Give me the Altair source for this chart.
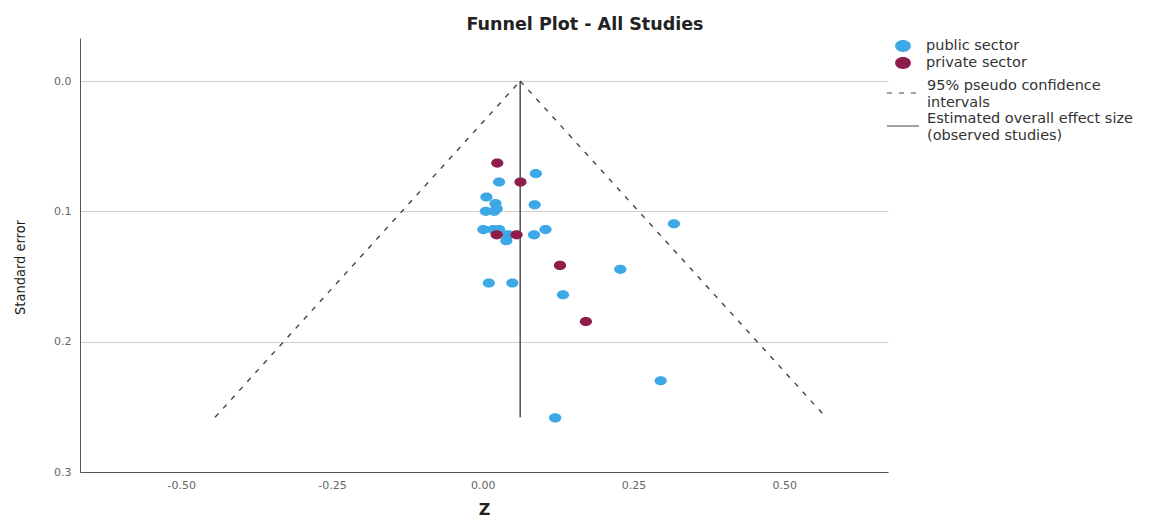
import altair as alt
import pandas as pd

# Study points
public_z = [0.088, 0.027, 0.006, 0.021, 0.086, 0.005, 0.019, 0.023, 0.317, 0.001,
            0.017, 0.027, 0.104, 0.042, 0.039, 0.085, 0.228, 0.010, 0.049, 0.133,
            0.295, 0.120]
public_se = [0.071, 0.0775, 0.089, 0.094, 0.095, 0.100, 0.100, 0.098, 0.1095, 0.114,
             0.114, 0.114, 0.114, 0.118, 0.1225, 0.118, 0.1445, 0.155, 0.155, 0.164,
             0.230, 0.2585]
private_z = [0.024, 0.0625, 0.023, 0.056, 0.128, 0.171]
private_se = [0.063, 0.0775, 0.118, 0.118, 0.1415, 0.1845]

# Funnel lines (end points)
effect = 0.062
se_max = 0.258
ci_left = [0.062, -0.444]
ci_right = [0.062, 0.569]
ci_se = [0.0, 0.258]

sectors = ["public sector", "private sector"]
colors = ["#3DA8E6", "#8D1D4B"]
line_types = ["95% pseudo confidence intervals",
              "Estimated overall effect size (observed studies)"]

pts = pd.DataFrame({
    "z": public_z + private_z,
    "se": public_se + private_se,
    "sector": ["public sector"] * len(public_z) + ["private sector"] * len(private_z),
    "order": list(range(len(public_z) + len(private_z))),
})

lines = pd.DataFrame({
    "z": ci_left + ci_right + [effect, effect],
    "se": ci_se + ci_se + [0.0, se_max],
    "part": ["L", "L", "R", "R", "V", "V"],
    "type": [line_types[0]] * 4 + [line_types[1]] * 2,
})

FONT = "DejaVu Sans"
NARROW = "DejaVu Sans Condensed, Liberation Sans, sans-serif"

xscale = alt.Scale(domain=[-0.668, 0.672], nice=False, zero=False)
yscale = alt.Scale(domain=[-0.033, 0.3], nice=False, zero=False, reverse=True)

xaxis = alt.Axis(values=[-0.5, -0.25, 0, 0.25, 0.5], grid=False,
                 labelExpr="replace(format(datum.value, '.2f'), '\u2212', '-')",
                 ticks=False, labelPadding=7, labelFontSize=11, labelColor="#666666",
                 domainColor="#555555", title="Z", titleFontSize=16, titleFontWeight="bold",
                 titleColor="#222222", titleY=37, titleBaseline="middle", titleFont=FONT,
                 labelFont=FONT)
yaxis = alt.Axis(values=[0, 0.1, 0.2, 0.3], format=".1f", grid=True, gridColor="#cfcfcf",
                 ticks=False, labelPadding=9, labelFontSize=11, labelColor="#666666",
                 domainColor="#555555", title="Standard error", titleFontSize=14.5,
                 titleFontWeight="normal", titleColor="#1a1a1a", titleX=-60, titleY=229,
                 titleBaseline="middle", titleFont=NARROW, labelFont=FONT)

line_layer = alt.Chart(lines).mark_line(color="#444444", strokeWidth=1.4).encode(
    x=alt.X("z:Q", scale=xscale, axis=xaxis),
    y=alt.Y("se:Q", scale=yscale, axis=yaxis),
    detail="part:N",
    strokeDash=alt.StrokeDash(
        "type:N",
        scale=alt.Scale(domain=line_types, range=[[5, 7], [1, 0]]),
        legend=alt.Legend(
            title=None, orient="none", legendX=806, legendY=38,
            symbolType="stroke", symbolSize=1024, symbolStrokeColor="#444444",
            symbolStrokeWidth=1.2, labelFontSize=14.5, labelColor="#333333",
            labelFont=FONT, labelOffset=7, labelLimit=400, rowPadding=0,
            labelBaseline="bottom",
            labelExpr=("datum.label == '95% pseudo confidence intervals' ? "
                       "['95% pseudo confidence', 'intervals'] : "
                       "['Estimated overall effect size', '(observed studies)']"),
        ),
    ),
)

ellipse = "M -1 0 A 1 0.75 0 1 1 1 0 A 1 0.75 0 1 1 -1 0 Z"

point_layer = alt.Chart(pts).mark_point(shape=ellipse, filled=True, size=150, opacity=1).encode(
    x=alt.X("z:Q", scale=xscale, axis=xaxis),
    y=alt.Y("se:Q", scale=yscale, axis=yaxis),
    order="order:Q",
    color=alt.Color(
        "sector:N",
        scale=alt.Scale(domain=sectors, range=colors),
        legend=alt.Legend(
            title=None, orient="none", legendX=815, legendY=0,
            symbolType=ellipse, symbolSize=250, symbolStrokeWidth=0,
            labelFontSize=14.5, labelColor="#333333", labelFont=FONT,
            labelOffset=15, rowPadding=2,
        ),
    ),
)

chart = alt.layer(line_layer, point_layer).properties(
    width=808,
    height=434,
    autosize=alt.AutoSizeParams(type="none"),
    padding={"left": 72, "top": 30, "right": 261, "bottom": 48},
    title=alt.TitleParams("Funnel Plot - All Studies", fontSize=17.5, fontWeight="bold",
                          font=FONT, color="#222222", anchor="middle", dx=101, offset=5),
).configure_view(stroke=None).configure_legend(padding=0)

chart.save("out.html", embed_options={"renderer": "svg", "actions": False})
